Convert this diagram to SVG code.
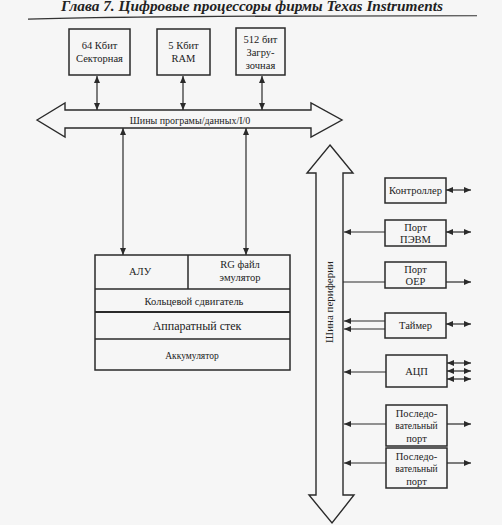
<svg xmlns="http://www.w3.org/2000/svg" width="502" height="525" viewBox="0 0 502 525" font-family="'Liberation Serif', 'DejaVu Serif', serif">
<defs>
<marker id="ah" viewBox="0 0 10 10" refX="10" refY="5" markerWidth="7" markerHeight="6" markerUnits="userSpaceOnUse" orient="auto-start-reverse" preserveAspectRatio="none">
<path d="M0,0 L10,5 L0,10 z" fill="#2a2a2a"/>
</marker>
<style>
.bx{fill:none;stroke:#2a2a2a;stroke-width:1.5}
.ln{fill:none;stroke:#2a2a2a;stroke-width:1.2}
.bus{fill:none;stroke:#2a2a2a;stroke-width:1.4;stroke-linejoin:miter}
.d{marker-start:url(#ah);marker-end:url(#ah)}
.e{marker-end:url(#ah)}
svg text{font-family:'Liberation Serif','DejaVu Serif',serif;fill:#222;text-anchor:middle}
.t{font-size:10.5px}
.s{font-size:9.5px}
</style>
</defs>
<rect x="0" y="0" width="502" height="525" fill="#f6f6f6"/>
<g id="header">
<text x="252" y="11" font-family="'Liberation Serif', serif" style="font-size:14px;font-weight:bold;font-style:italic" textLength="382" lengthAdjust="spacingAndGlyphs">Глава 7. Цифровые процессоры фирмы Texas Instruments</text>
<path d="M28,18.5 Q150,15 477,15.2 L477,16.2 Q150,16.5 28,19.8 z" fill="#333"/>
</g>
<g id="connectors">
<line class="ln d" x1="97" y1="76" x2="97" y2="110"/>
<line class="ln d" x1="183" y1="76" x2="183" y2="110"/>
<line class="ln d" x1="262" y1="76" x2="262" y2="110"/>
<line class="ln d" x1="123" y1="128" x2="123" y2="255"/>
<line class="ln d" x1="246" y1="128" x2="246" y2="255"/>
<line class="ln d" x1="446" y1="190" x2="471" y2="190"/>
<line class="ln e" x1="385" y1="232" x2="344" y2="232"/>
<line class="ln d" x1="446" y1="232" x2="471" y2="232"/>
<line class="ln" x1="343" y1="282" x2="385" y2="282"/>
<line class="ln e" x1="446" y1="282" x2="471" y2="282"/>
<line class="ln e" x1="385" y1="321" x2="344" y2="321"/>
<line class="ln e" x1="385" y1="329" x2="344" y2="329"/>
<line class="ln d" x1="446" y1="324" x2="471" y2="324"/>
<line class="ln e" x1="386" y1="372" x2="344" y2="372"/>
<line class="ln d" x1="447" y1="363" x2="471" y2="363"/>
<line class="ln d" x1="447" y1="371" x2="471" y2="371"/>
<line class="ln d" x1="447" y1="379" x2="471" y2="379"/>
<line class="ln e" x1="386" y1="424" x2="344" y2="424"/>
<line class="ln e" x1="447" y1="424" x2="471" y2="424"/>
<line class="ln e" x1="386" y1="463" x2="344" y2="463"/>
<line class="ln e" x1="447" y1="463" x2="471" y2="463"/>
</g>
<g id="bus-main">
<path class="bus" d="M37,120 L65,103 L65,110 L311,110 L311,103 L342,120 L311,137 L311,128 L65,128 L65,137 Z"/>
<text class="t" x="190" y="124" style="font-size:10px">Шины програмы/данных/I/0</text>
</g>
<g id="bus-periph">
<path class="bus" d="M330,145 L353,173 L343,173 L343,495 L354,495 L332,523 L309,495 L316,495 L316,173 L307,173 Z"/>
<text class="t" transform="translate(333,302) rotate(-90)" style="font-size:11px">Шина периферии</text>
</g>
<g id="mem-sector">
<rect class="bx" x="69" y="29" width="61" height="46"/>
<text class="t" x="99.5" y="49">64 Кбит</text>
<text class="t" x="99.5" y="62">Секторная</text>
</g>
<g id="mem-ram">
<rect class="bx" x="157" y="29" width="53" height="46"/>
<text class="t" x="183.5" y="49">5 Кбит</text>
<text class="t" x="183.5" y="62">RAM</text>
</g>
<g id="mem-boot">
<rect class="bx" x="236" y="28" width="49" height="47"/>
<text class="t" x="260.5" y="43">512 бит</text>
<text class="t" x="260.5" y="56">Загру-</text>
<text class="t" x="260.5" y="69">зочная</text>
</g>
<g id="cpu">
<rect class="bx" x="95" y="255" width="195" height="115"/>
<line class="bx" x1="188" y1="255" x2="188" y2="289"/>
<line class="bx" x1="95" y1="289" x2="290" y2="289"/>
<line class="bx" x1="95" y1="312" x2="290" y2="312" style="stroke-width:2"/>
<line class="bx" x1="95" y1="339" x2="290" y2="339"/>
<text class="t" x="140" y="275">АЛУ</text>
<text class="t" x="240" y="268">RG файл</text>
<text class="t" x="240" y="281">эмулятор</text>
<text class="t" x="194" y="305">Кольцевой сдвигатель</text>
<text x="197" y="330" style="font-size:12px">Аппаратный стек</text>
<text class="s" x="192" y="359">Аккумулятор</text>
</g>
<g id="p-ctrl">
<rect class="bx" x="385" y="178" width="61" height="25"/>
<text class="t" x="415.5" y="194">Контроллер</text>
</g>
<g id="p-pc">
<rect class="bx" x="385" y="220" width="61" height="26"/>
<text class="t" x="415.5" y="231">Порт</text>
<text class="t" x="415.5" y="243">ПЭВМ</text>
</g>
<g id="p-oep">
<rect class="bx" x="385" y="262" width="61" height="26"/>
<text class="t" x="415.5" y="273">Порт</text>
<text class="t" x="415.5" y="285">OEP</text>
</g>
<g id="p-timer">
<rect class="bx" x="385" y="313" width="61" height="25"/>
<text class="t" x="415.5" y="329">Таймер</text>
</g>
<g id="p-adc">
<rect class="bx" x="386" y="355" width="61" height="32"/>
<text class="t" x="416.5" y="375">АЦП</text>
</g>
<g id="p-serial1">
<rect class="bx" x="386" y="405" width="61" height="41"/>
<text class="t" x="416.5" y="417">Последо-</text>
<text class="s" x="416.5" y="429">вательный</text>
<text class="t" x="416.5" y="442">порт</text>
</g>
<g id="p-serial2">
<rect class="bx" x="386" y="448" width="61" height="40"/>
<text class="t" x="416.5" y="460">Последо-</text>
<text class="s" x="416.5" y="472">вательный</text>
<text class="t" x="416.5" y="485">порт</text>
</g>
</svg>
